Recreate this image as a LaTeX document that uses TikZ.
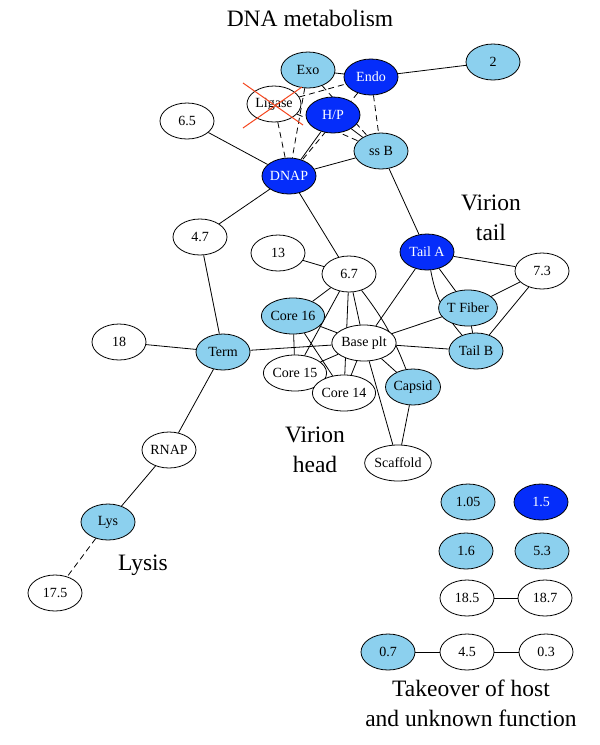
\documentclass[tikz,border=0pt]{standalone}
\usepackage{fontspec}
\setmainfont{Liberation Serif}
\usetikzlibrary{shapes.geometric,backgrounds}
\definecolor{lblue}{RGB}{140,208,238}
\definecolor{dblue}{RGB}{5,45,250}
\definecolor{xred}{RGB}{245,70,30}
\tikzset{
  prot/.style={ellipse,draw=black,line width=0.8pt,minimum width=54pt,minimum height=36pt,inner sep=0pt,font=\fontsize{14}{15}\selectfont,fill=white},
  lb/.style={prot,fill=lblue},
  db/.style={prot,fill=dblue,text=white},
  wt/.style={prot},
  grp/.style={font=\fontsize{23.5}{30}\selectfont,align=center},
  ln/.style={line width=0.8pt},
  dl/.style={line width=0.8pt,dash pattern=on 6pt off 4pt},
  cross/.style={draw=xred,line width=1pt}
}
\begin{document}
\begin{tikzpicture}[x=1pt,y=-1pt]
\useasboundingbox (0,0) rectangle (600,745);
% nodes
\node[lb] (exo) at (308,70) {Exo};
\node[db] (endo) at (371,77) {Endo};
\node[lb] (n2) at (493,62) {2};
\node[wt] (lig) at (274,104) {Ligase};
\node[db] (hp) at (333,115) {H/P};
\node[wt] (n65) at (187,121) {6.5};
\node[lb] (ssb) at (381,151) {ss B};
\node[db] (dnap) at (289,176) {DNAP};
\node[wt] (n47) at (200,237) {4.7};
\node[db] (taila) at (427,252) {Tail A};
\node[wt] (n13) at (278,253) {13};
\node[wt] (n67) at (349,274) {6.7};
\node[wt] (n73) at (542,271) {7.3};
\node[lb] (tfib) at (468,308) {T Fiber};
\node[lb] (c16) at (293,316) {Core 16};
\node[wt] (base) at (364,343) {Base plt};
\node[lb] (tailb) at (476,351) {Tail B};
\node[wt] (n18) at (119,342) {18};
\node[lb] (term) at (223,352) {Term};
\node[wt] (c15) at (295,373) {Core 15};
\node[wt] (c14) at (344,393) {Core 14};
\node[lb] (caps) at (413,387) {Capsid};
\node[wt] (scaf) at (398,463) {Scaffold};
\node[wt] (rnap) at (169,450) {RNAP};
\node[lb] (lys) at (108,522) {Lys};
\node[wt] (n175) at (55,593) {17.5};
\node[lb] (n105) at (468,502) {1.05};
\node[db] (n15) at (541,502) {1.5};
\node[lb] (n16) at (466,551) {1.6};
\node[lb] (n53) at (542,551) {5.3};
\node[wt] (n185) at (467,598) {18.5};
\node[wt] (n187) at (545,598) {18.7};
\node[lb] (n07) at (388,652) {0.7};
\node[wt] (n45) at (467,652) {4.5};
\node[wt] (n03) at (546,652) {0.3};
% group labels
\node[grp] (gdna) at (310,18) {DNA metabolism};
\node[grp] (gtail) at (491,218) {Virion\\tail};
\node[grp] (ghead) at (315,450) {Virion\\head};
\node[grp] (glys) at (143,565) {Lysis};
\node[grp] (gtake) at (471,703) {Takeover of host\\and unknown function};
% edges
\begin{scope}[on background layer]
\fill[white] (0,0) rectangle (600,745);
\draw[ln] (exo) -- (endo);
\draw[ln] (endo) -- (n2);
\draw[ln] (n65) -- (dnap);
\draw[ln] (dnap) -- (ssb);
\draw[ln] (dnap) -- (hp);
\draw[ln] (hp) -- (ssb);
\draw[ln] (ssb) -- (taila);
\draw[ln] (dnap) -- (n47);
\draw[ln] (dnap) -- (n67);
\draw[dl] (lig) -- (dnap);
\draw[dl] (exo) -- (dnap);
\draw[dl] (lig) -- (endo);
\draw[dl] (lig) -- (ssb);
\draw[dl] (endo) -- (ssb);
\draw[dl] (endo) -- (dnap);
\draw[dl] (exo) -- (ssb);
\draw[ln] (n47) -- (term);
\draw[ln] (n18) -- (term);
\draw[ln] (term) -- (base);
\draw[ln] (term) -- (rnap);
\draw[ln] (rnap) -- (lys);
\draw[dl] (lys) -- (n175);
\draw[ln] (n13) -- (n67);
\draw[ln] (n67) -- (c16);
\draw[ln] (n67) -- (c15);
\draw[ln] (n67) -- (c14);
\draw[ln] (n67) -- (base);
\draw[ln] (n67) to[bend left=8] (caps);
\draw[ln] (c16) -- (c15);
\draw[ln] (c16) -- (base);
\draw[ln] (c16) -- (c14);
\draw[ln] (c15) -- (base);
\draw[ln] (c14) -- (base);
\draw[ln] (base) -- (caps);
\draw[ln] (base) -- (scaf);
\draw[ln] (caps) -- (scaf);
\draw[ln] (base) -- (taila);
\draw[ln] (base) -- (tfib);
\draw[ln] (base) -- (tailb);
\draw[ln] (taila) -- (n73);
\draw[ln] (taila) -- (tfib);
\draw[ln] (taila) to[bend right=15] (tailb);
\draw[ln] (tfib) -- (n73);
\draw[ln] (tfib) -- (tailb);
\draw[ln] (tailb) -- (n73);
\draw[ln] (n185) -- (n187);
\draw[ln] (n07) -- (n45);
\draw[ln] (n45) -- (n03);
\end{scope}
% red cross over Ligase
\draw[cross] (243,83) -- (303,125);
\draw[cross] (243,128) -- (302,87);
\end{tikzpicture}
\end{document}
